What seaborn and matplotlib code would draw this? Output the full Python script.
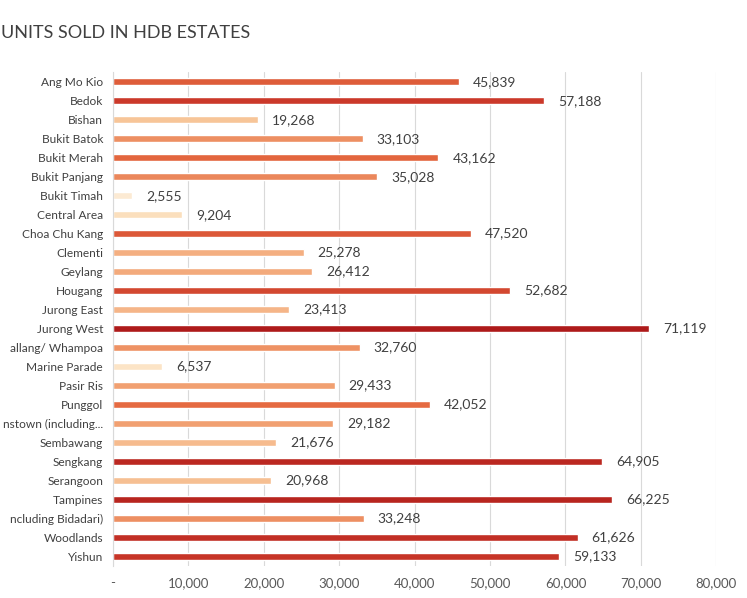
import matplotlib
matplotlib.use("Agg")
import matplotlib.pyplot as plt
import seaborn as sns
import pandas as pd
import numpy as np
from matplotlib.colors import LinearSegmentedColormap, to_hex

estates = ["Ang Mo Kio", "Bedok", "Bishan", "Bukit Batok", "Bukit Merah",
           "Bukit Panjang", "Bukit Timah", "Central Area", "Choa Chu Kang",
           "Clementi", "Geylang", "Hougang", "Jurong East", "Jurong West",
           "allang/ Whampoa", "Marine Parade", "Pasir Ris", "Punggol",
           "nstown (including...", "Sembawang", "Sengkang", "Serangoon",
           "Tampines", "ncluding Bidadari)", "Woodlands", "Yishun"]
units = [45839, 57188, 19268, 33103, 43162, 35028, 2555, 9204, 47520,
         25278, 26412, 52682, 23413, 71119, 32760, 6537, 29433, 42052,
         29182, 21676, 64905, 20968, 66225, 33248, 61626, 59133]
xticks = [0, 10000, 20000, 30000, 40000, 50000, 60000, 70000, 80000]
xtick_labels = ["-", "10,000", "20,000", "30,000", "40,000", "50,000",
                "60,000", "70,000", "80,000"]
title = "UNITS SOLD IN HDB ESTATES"

df = pd.DataFrame({"estate": estates, "units": units})

cmap = LinearSegmentedColormap.from_list(
    "hdb", ["#FDEEDB", "#FAD7AC", "#F2A374", "#E4683F", "#CC3A2A", "#AE1A1A"])
vmin, vmax = 0, max(units)
palette = {e: to_hex(cmap((u - vmin) / (vmax - vmin))) for e, u in zip(estates, units)}

sns.set_style("white")
plt.rcParams["font.family"] = ["Lato", "DejaVu Sans"]

fig = plt.figure(figsize=(7.47, 5.98), dpi=100)
ax = fig.add_axes([0.151, 0.054, 0.808, 0.825])

sns.barplot(data=df, y="estate", x="units", hue="estate", palette=palette,
            legend=False, width=0.38, ax=ax, orient="h", saturation=1)

for c in ax.containers:
    ax.bar_label(c, labels=[f"{int(v):,}" for v in c.datavalues], padding=10,
                 fontsize=10, color="#404040")

ax.set_xlim(0, 80000)
ax.set_ylim(len(estates) - 0.5, -0.5)
ax.set_xticks(xticks)
ax.set_xticklabels(xtick_labels, fontsize=9.5, color="#595959")
ax.tick_params(axis="y", labelsize=8.6, colors="#404040", length=0, pad=7)
ax.tick_params(axis="x", length=0, pad=8)
ax.set_xlabel("")
ax.set_ylabel("")
ax.xaxis.grid(True, color="#D9D9D9", linewidth=0.8)
ax.set_axisbelow(True)
for s in ["top", "right", "bottom"]:
    ax.spines[s].set_visible(False)
ax.spines["left"].set_color("#D9D9D9")
ax.spines["left"].set_linewidth(0.8)

fig.text(0.002, 0.945, title, fontsize=13, color="#404040", ha="left", va="center")

fig.savefig("out.png", dpi=100, facecolor="white")
